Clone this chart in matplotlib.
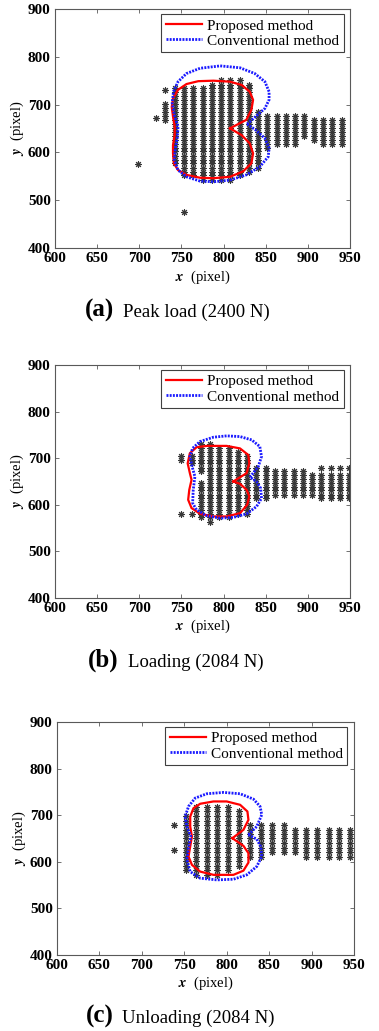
import numpy as np
import matplotlib
matplotlib.use("Agg")
import matplotlib.pyplot as plt

plt.rcParams["font.family"] = ["Liberation Serif", "DejaVu Serif"]
plt.rcParams["mathtext.fontset"] = "stix"

X_TICKS = [600, 650, 700, 750, 800, 850, 900, 950]
Y_TICKS = [400, 500, 600, 700, 800, 900]
LEGEND_LABELS = ["Proposed method", "Conventional method"]

# ---- (a) peak load ----
ROWS_A = [535, 543, 552, 560, 568, 577, 585, 593, 602, 610, 618, 626, 635, 643,
          651, 660, 668, 676, 684, 693, 701, 709, 718, 726, 734, 742, 751]
COLS_A = [
    (731, [(668, 701)]), (742, [(577, 734)]), (753, [(552, 734)]),
    (764, [(552, 734)]), (775, [(543, 734)]), (786, [(543, 742)]),
    (797, [(543, 751)]), (808, [(543, 751)]), (819, [(552, 751)]),
    (830, [(560, 742)]), (841, [(568, 684)]), (852, [(610, 676)]),
    (863, [(618, 676)]), (874, [(618, 676)]), (885, [(618, 676)]),
    (896, [(635, 676)]), (907, [(626, 668)]), (918, [(618, 668)]),
    (929, [(618, 668)]), (940, [(618, 668)]),
]
SINGLES_A = [(698, 575), (720, 673), (731, 730), (753, 476)]
RED_A = [(807.6, 650.4), (827, 668), (833, 689), (835, 710), (831, 727), (821.5, 741),
         (807.6, 748), (788, 750), (770, 749), (756, 743), (746, 731), (740, 713),
         (738.5, 695), (740, 675), (742, 655), (742, 636), (740, 615), (740, 598),
         (741, 577), (746, 563), (756, 553), (772, 547), (788, 546), (807.6, 549),
         (823, 560), (833, 577), (835, 598), (831, 619), (821.5, 636), (807.6, 650.4)]
BLUE_A = [(828, 659), (838, 675), (849, 692), (854, 710), (854, 727), (849, 748),
          (837, 765), (819.5, 777), (796, 781), (772, 776), (756, 765), (746, 748),
          (740.5, 727), (739, 703), (742, 675), (746, 654), (745, 630), (742.5, 605),
          (741.5, 584), (746, 563), (756, 549), (772, 540), (788, 538.5), (807.6, 542),
          (827, 553), (843, 570), (853, 591), (854, 609), (849, 629.5), (838, 647), (828, 659)]

# ---- (b) loading ----
ROWS_B = [564, 573, 581, 589, 597, 606, 614, 622, 631, 639, 647, 656, 664, 672,
          680, 689, 697, 705, 714, 722, 730]
COLS_B = [
    (750, [(581, 581), (697, 705)]), (762, [(581, 581), (689, 705)]),
    (773, [(573, 647), (672, 730)]), (784, [(564, 730)]), (795, [(573, 722)]),
    (806, [(573, 722)]), (817, [(581, 714)]), (828, [(581, 705)]),
    (839, [(614, 680)]), (850, [(614, 680)]), (861, [(622, 672)]),
    (872, [(622, 672)]), (883, [(622, 672)]), (894, [(622, 672)]),
    (905, [(622, 664)]), (916, [(614, 664), (680, 680)]),
    (927, [(614, 664), (680, 680)]), (938, [(614, 664), (680, 680)]),
    (949, [(614, 664), (680, 680)]),
]
SINGLES_B = []
RED_B = [(811.5, 650), (827.4, 668), (830.5, 689), (829.3, 707), (819.5, 721), (803.6, 726.4),
         (780, 726.4), (768, 723.6), (760, 710.7), (757.4, 689), (760, 668), (762, 653.6),
         (759.3, 632), (758, 610.7), (762, 593), (772, 580.7), (787.8, 575), (803.6, 575),
         (819.5, 582), (828, 600), (830.5, 618), (827.4, 632), (819.5, 645), (811.5, 650)]
BLUE_B = [(831.3, 659.3), (841.2, 682), (845, 703.6), (843, 725), (833.3, 739.3),
          (819.5, 746.4), (803.6, 747.9), (787.8, 745), (772, 735.7), (763.3, 721.4),
          (760, 703.6), (763, 680), (766, 660.7), (764, 632), (763.3, 603.6), (768, 589),
          (780, 576.4), (795.7, 571.4), (811.5, 572.9), (827.4, 580.7), (839.2, 596.4),
          (845, 614), (844, 635.7), (839, 650), (831.3, 659.3)]

# ---- (c) unloading ----
ROWS_C = [572, 582, 592, 601, 611, 621, 630, 640, 650, 659, 669, 679, 688, 698, 708, 717, 727]
COLS_C = [
    (752, [(582, 698)]), (764, [(572, 717)]), (777, [(572, 717)]),
    (789, [(572, 717)]), (802, [(582, 717)]), (815, [(592, 708)]),
    (828, [(611, 679)]), (840, [(611, 679)]), (853, [(621, 679)]),
    (867, [(621, 679)]), (880, [(621, 669)]), (893, [(611, 669)]),
    (906, [(611, 669)]), (920, [(611, 669)]), (932, [(611, 669)]),
    (945, [(611, 669)]),
]
SINGLES_C = [(738, 679), (738, 626)]
RED_C = [(806.7, 650.7), (819.7, 668.6), (825.6, 690), (824.4, 708), (815.8, 722.3),
         (800, 729.5), (784.4, 729.5), (768.7, 724.5), (760.8, 715), (757, 697),
         (757, 675.8), (759, 654.3), (757, 633), (755, 611.3), (759, 593.4), (768.7, 579),
         (784.4, 572), (807.9, 572), (819.7, 581), (825.6, 598.4), (825.6, 618.5),
         (819.7, 634.2), (806.7, 650.7)]
BLUE_C = [(825.6, 658), (835.4, 675.8), (841.3, 700.9), (839.3, 718.8), (831.5, 734.5),
          (815.8, 746), (796.2, 748.9), (776.5, 746), (762.8, 736.7), (755, 718.8),
          (751, 697.3), (753, 675.8), (757.7, 654.3), (755, 630), (753, 605), (756.9, 579),
          (768.7, 564.8), (788.3, 561.2), (808, 562.6), (823.6, 572), (835.4, 590),
          (841.3, 611.3), (840, 632.8), (835.4, 648.6), (825.6, 658)]

CAPTIONS = [("(a)", "Peak load (2400 N)"), ("(b)", "Loading (2084 N)"),
            ("(c)", "Unloading (2084 N)")]

W, H = 379, 1031
# axes boxes in pixels: left, top, right, bottom
AX_PX = [(55, 9, 350, 248), (55, 365, 350, 598), (57, 722, 354, 955)]
CAP_PX = [(85, 123, 317), (88, 128, 667), (86, 122, 1023)]


def grid_points(rows, cols, singles):
    xs, ys = [], []
    for x, segs in cols:
        for r in rows:
            if any(lo - 1 <= r <= hi + 1 for lo, hi in segs):
                xs.append(x)
                ys.append(r)
    for x, y in singles:
        xs.append(x)
        ys.append(y)
    return xs, ys


fig = plt.figure(figsize=(W / 100, H / 100), dpi=100)
panels = [(ROWS_A, COLS_A, SINGLES_A, RED_A, BLUE_A),
          (ROWS_B, COLS_B, SINGLES_B, RED_B, BLUE_B),
          (ROWS_C, COLS_C, SINGLES_C, RED_C, BLUE_C)]

for (rows, cols, singles, red, blue), (l, t, r, b), cap, cpx in zip(panels, AX_PX, CAPTIONS, CAP_PX):
    ax = fig.add_axes([l / W, 1 - b / H, (r - l) / W, (b - t) / H])
    xs, ys = grid_points(rows, cols, singles)
    ax.plot(xs, ys, linestyle="none", marker=(8, 2, 0), markersize=4.8,
            markeredgewidth=0.75, color="0.22")
    rx, ry = zip(*red)
    bx, by = zip(*blue)
    ax.plot(rx, ry, color="#ff0000", lw=1.6, label=LEGEND_LABELS[0])
    ax.plot(bx, by, color="#1a1aff", lw=2.0, linestyle=(0, (0.7, 0.45)),
            label=LEGEND_LABELS[1])
    ax.set_xlim(600, 950)
    ax.set_ylim(400, 900)
    ax.set_xticks(X_TICKS)
    ax.set_yticks(Y_TICKS)
    ax.tick_params(direction="in", top=True, right=True, length=3, width=0.6,
                   color="0.35", labelsize=11, pad=3)
    for lab in ax.get_xticklabels() + ax.get_yticklabels():
        lab.set_fontweight("bold")
    for sp in ax.spines.values():
        sp.set_color("0.35")
        sp.set_linewidth(0.8)
    ax.text(0.5, -0.122, r"$\mathbfit{x}$  (pixel)", transform=ax.transAxes,
            ha="center", va="center", fontsize=10.5)
    ax.text(-0.128, 0.5, r"$\mathbfit{y}$  (pixel)", transform=ax.transAxes,
            ha="center", va="center", rotation=90, fontsize=10.5)
    leg = ax.legend(loc="upper right", bbox_to_anchor=(0.978, 0.978), borderaxespad=0,
                    fontsize=11, handlelength=2.4, handletextpad=0.3, borderpad=0.3,
                    labelspacing=0.1, fancybox=False, framealpha=1, edgecolor="0.25")
    leg.get_frame().set_linewidth(0.8)

    fig.text(cpx[0] / W, 1 - cpx[2] / H, cap[0], fontsize=18, fontweight="bold",
             ha="left", va="baseline")
    fig.text(cpx[1] / W, 1 - cpx[2] / H, cap[1], fontsize=13.5, ha="left", va="baseline")

fig.savefig("out.png", dpi=100)
